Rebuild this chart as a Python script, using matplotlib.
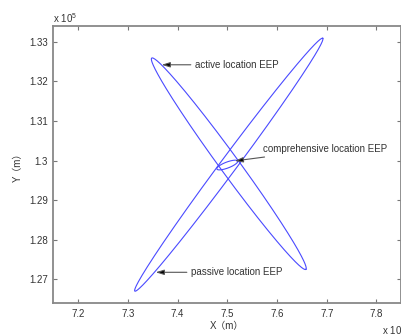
import numpy as np
import matplotlib.pyplot as plt

plt.rcParams['font.family'] = ['Liberation Sans', 'Noto Sans CJK SC']
plt.rcParams['mathtext.fontset'] = 'custom'
plt.rcParams['mathtext.rm'] = 'Liberation Sans'

# EEP ellipses, given by their two tips (units of 1e5 m) and half width (px)
names = ['passive', 'active', 'comprehensive']
tip1_x = [7.314, 7.348, 7.479]
tip1_y = [1.2670, 1.3259, 1.29786]
tip2_x = [7.692, 7.658, 7.521]
tip2_y = [1.3309, 1.2725, 1.29987]
half_w = [8.0, 9.5, 3.0]

labels = ['passive location EEP', 'active location EEP', 'comprehensive location EEP']
arrow_x = [7.356, 7.368, 7.515]
arrow_y = [1.27176, 1.3242, 1.2999]
text_x = [7.427, 7.435, 7.572]
text_y = [1.27176, 1.3242, 1.3029]

xticks = [7.2, 7.3, 7.4, 7.5, 7.6, 7.7, 7.8]
yticks = [1.27, 1.28, 1.29, 1.30, 1.31, 1.32, 1.33]
xtick_labels = ['7.2', '7.3', '7.4', '7.5', '7.6', '7.7', '7.8']
ytick_labels = ['1.27', '1.28', '1.29', '1.3', '1.31', '1.32', '1.33']
xlim = (7.15, 7.85)
ylim = (1.264, 1.334)

W, H = 401, 336
fig = plt.figure(figsize=(W / 100, H / 100), dpi=100)
ax_px = (53.3, 26, 348, 277)  # left, top, width, height in pixels
ax = fig.add_axes([ax_px[0] / W, (H - ax_px[1] - ax_px[3]) / H, ax_px[2] / W, ax_px[3] / H])
ax.set_xlim(*xlim)
ax.set_ylim(*ylim)

# pixels per data unit, used to keep ellipse width in screen space
sx = ax_px[2] / (xlim[1] - xlim[0])
sy = ax_px[3] / (ylim[1] - ylim[0])

t = np.linspace(0, 2 * np.pi, 400)
for i in range(len(names)):
    p1 = np.array([tip1_x[i] * sx, tip1_y[i] * sy])
    p2 = np.array([tip2_x[i] * sx, tip2_y[i] * sy])
    c = (p1 + p2) / 2
    a = (p2 - p1) / 2
    n = np.array([-a[1], a[0]]) / np.hypot(*a) * half_w[i]
    pts = c[:, None] + np.outer(a, np.cos(t)) + np.outer(n, np.sin(t))
    ax.plot(pts[0] / sx, pts[1] / sy, color='#4a4aff', lw=0.8)

for i in range(len(labels)):
    ax.annotate(labels[i], xy=(arrow_x[i], arrow_y[i]), xytext=(text_x[i], text_y[i]),
                fontsize=7, color='#333333', va='center', ha='left',
                arrowprops=dict(arrowstyle='-|>,head_length=0.7,head_width=0.22',
                                ec='#555555', fc='black', lw=0.8, shrinkA=1, shrinkB=0))

ax.set_xticks(xticks)
ax.set_xticklabels(xtick_labels)
ax.set_yticks(yticks)
ax.set_yticklabels(ytick_labels)
ax.tick_params(direction='in', length=3, width=0.8, color='#777777',
               labelsize=7, labelcolor='#333333', top=True, right=True, pad=4)
for s in ax.spines.values():
    s.set_color('#888888')
    s.set_linewidth(1.3)

ax.set_xlabel('X（m）', fontsize=7, color='#333333', labelpad=2)
ax.set_ylabel('Y（m）', fontsize=7, color='#333333', labelpad=4)

fig.text(53 / W, 1 - 18 / H, r'x 10$^{5}$', fontsize=7, color='#333333', va='center')
fig.text(382 / W, 1 - 330 / H, r'x 10$^{5}$', fontsize=7, color='#333333', va='center')

fig.savefig('out.png', dpi=100)
